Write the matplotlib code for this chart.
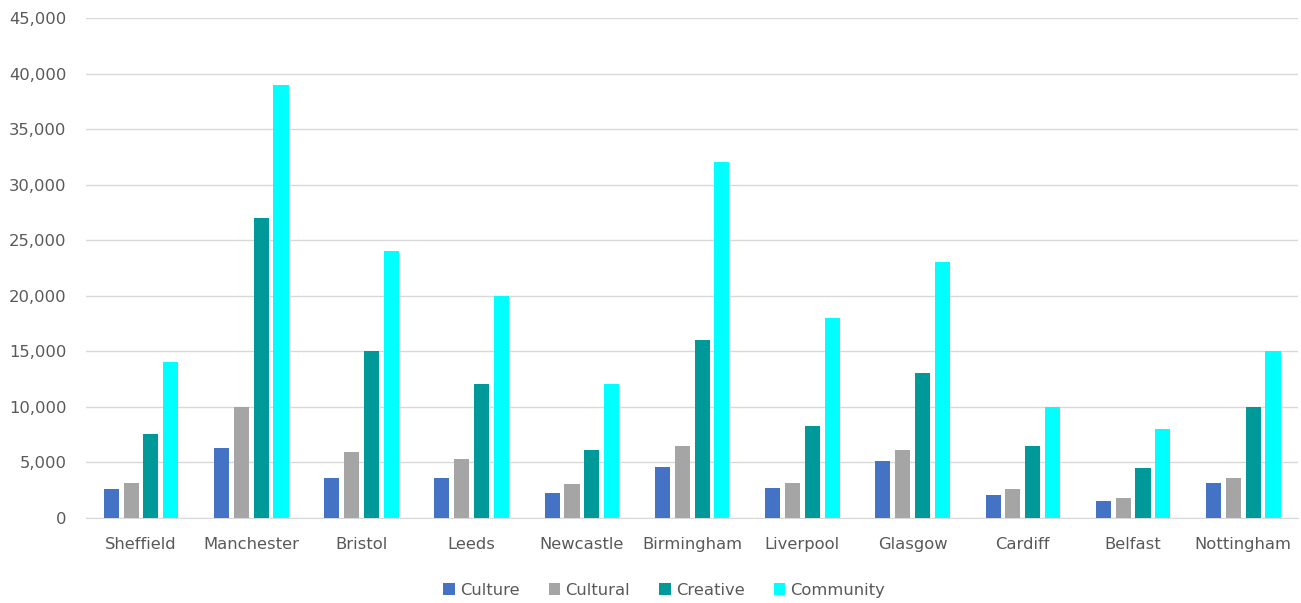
import numpy as np
import matplotlib.pyplot as plt
from matplotlib.ticker import FuncFormatter

cities = ["Sheffield", "Manchester", "Bristol", "Leeds", "Newcastle", "Birmingham",
          "Liverpool", "Glasgow", "Cardiff", "Belfast", "Nottingham"]
culture = [2600, 6300, 3600, 3600, 2200, 4600, 2700, 5100, 2050, 1500, 3100]
cultural = [3100, 10000, 5900, 5300, 3000, 6500, 3100, 6100, 2600, 1800, 3600]
creative = [7500, 27000, 15000, 12000, 6100, 16000, 8300, 13000, 6500, 4500, 10000]
community = [14000, 39000, 24000, 20000, 12000, 32000, 18000, 23000, 10000, 8000, 15000]

series = [("Culture", culture, "#4472C4"),
          ("Cultural", cultural, "#A5A5A5"),
          ("Creative", creative, "#009999"),
          ("Community", community, "#00FFFF")]

plt.rcParams['font.family'] = ['DejaVu Sans']
fig = plt.figure(figsize=(13.01, 6.03), dpi=100)
ax = fig.add_axes([0.066, 0.1415, 0.932, 0.8285])

x = np.arange(len(cities))
step = 0.18
width = 0.137
for i, (name, vals, col) in enumerate(series):
    ax.bar(x + (i - 1.5) * step, vals, width, color=col, label=name, zorder=3)

ax.set_xlim(-0.5, len(cities) - 0.5)
ax.set_ylim(0, 45000)
ax.set_yticks(np.arange(0, 45001, 5000))
ax.yaxis.set_major_formatter(FuncFormatter(lambda v, p: f"{int(v):,}"))
ax.set_xticks(x)
ax.set_xticklabels(cities)
ax.grid(axis="y", color="#D9D9D9", linewidth=1, zorder=0)
for s in ["top", "right", "left"]:
    ax.spines[s].set_visible(False)
ax.spines["bottom"].set_color("#D9D9D9")
ax.tick_params(axis="both", length=0, labelsize=11.8, labelcolor="#595959")
ax.tick_params(axis="y", pad=14)
ax.tick_params(axis="x", pad=14)

ax.legend(loc="center", bbox_to_anchor=(0.5 - 0.066 / 2 + 0.01, -0.145), ncol=4, frameon=False,
          fontsize=11.8, labelcolor="#595959", handlelength=0.7, handleheight=0.7,
          handletextpad=0.3, columnspacing=1.8)

fig.savefig("out.png", dpi=100)
